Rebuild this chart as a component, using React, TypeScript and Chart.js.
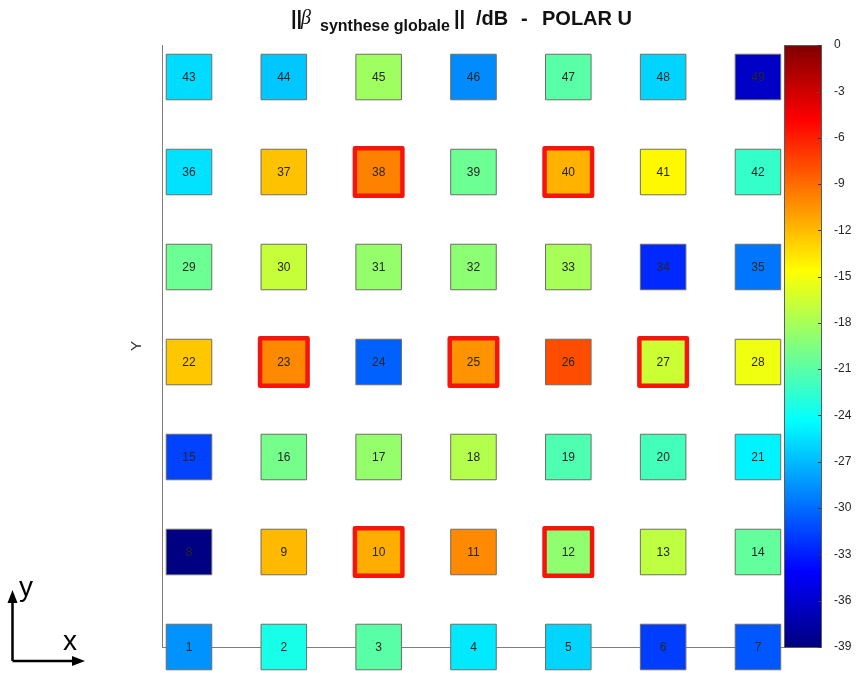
import React, { useEffect, useRef } from 'react';
import { Chart, registerables } from 'chart.js';

Chart.register(...registerables);

// ---- data ----
const sensorIds = [
  1, 2, 3, 4, 5, 6, 7,
  8, 9, 10, 11, 12, 13, 14,
  15, 16, 17, 18, 19, 20, 21,
  22, 23, 24, 25, 26, 27, 28,
  29, 30, 31, 32, 33, 34, 35,
  36, 37, 38, 39, 40, 41, 42,
  43, 44, 45, 46, 47, 48, 49,
];
const gridColumns = 7;
const levelsDb = [
  -28.5, -23.5, -21.0, -25.2, -26.0, -31.8, -30.8,
  -38.9, -12.0, -11.5, -10.1, -18.9, -17.1, -20.6,
  -31.6, -19.9, -18.7, -17.5, -21.4, -21.8, -24.8,
  -12.5, -10.1, -30.4, -10.5, -7.8, -16.6, -15.2,
  -20.3, -16.8, -18.7, -19.0, -18.0, -32.6, -29.6,
  -25.5, -12.3, -9.8, -20.3, -11.7, -14.4, -22.4,
  -25.7, -26.5, -18.3, -28.8, -21.0, -26.0, -36.3,
];
const highlightedIds = [10, 12, 23, 25, 27, 38, 40];
const colorMin = -39;
const colorMax = 0;
const colorbarStep = 3;

const FONT = "'Liberation Sans', Arial, Helvetica, sans-serif";

function clamp01(v: number) {
  return Math.max(0, Math.min(1, v));
}
function jet(value: number): string {
  const t = clamp01((value - colorMin) / (colorMax - colorMin));
  const r = clamp01(1.5 - Math.abs(4 * t - 3));
  const g = clamp01(1.5 - Math.abs(4 * t - 2));
  const b = clamp01(1.5 - Math.abs(4 * t - 1));
  return `rgb(${Math.round(r * 255)},${Math.round(g * 255)},${Math.round(b * 255)})`;
}

const isHl = (i: number) => highlightedIds.includes(sensorIds[i]);

const decorPlugin = {
  id: 'decor',
  beforeDatasetsDraw(chart: any) {
    chart.ctx.lineJoin = 'round';
  },
  afterDatasetsDraw(chart: any) {
    const ctx = chart.ctx;
    ctx.lineJoin = 'miter';
    const meta = chart.getDatasetMeta(0);
    ctx.save();
    ctx.fillStyle = '#262626';
    ctx.font = `12px ${FONT}`;
    ctx.textAlign = 'center';
    ctx.textBaseline = 'middle';
    meta.data.forEach((pt: any, i: number) => {
      ctx.fillText(String(sensorIds[i]), pt.x, pt.y + 1);
    });
    ctx.restore();
  },
  afterDraw(chart: any) {
    const ctx = chart.ctx;
    const area = chart.chartArea;
    const cb = chart.scales.cb;
    // colorbar
    const top = Math.round(cb.getPixelForValue(colorMax));
    const bottom = Math.round(cb.getPixelForValue(colorMin)) + 1;
    const x0 = area.right + 1;
    const w = 38;
    ctx.save();
    for (let py = top; py < bottom; py++) {
      const v = cb.getValueForPixel(py + 0.5);
      ctx.fillStyle = jet(v);
      ctx.fillRect(x0, py, w, 1);
    }
    ctx.strokeStyle = '#5c5c5c';
    ctx.lineWidth = 1;
    ctx.strokeRect(x0 + 0.5, top + 0.5, w - 1, bottom - top - 1);
    ctx.strokeStyle = '#3a3a3a';
    for (let v = colorMin; v <= colorMax; v += colorbarStep) {
      const py = Math.round(cb.getPixelForValue(v)) + 0.5;
      ctx.beginPath();
      ctx.moveTo(x0 + w - 4, py);
      ctx.lineTo(x0 + w - 1, py);
      ctx.stroke();
    }
    ctx.restore();

    // title
    ctx.save();
    ctx.fillStyle = '#111';
    ctx.textAlign = 'left';
    ctx.textBaseline = 'alphabetic';
    ctx.font = `bold 20px ${FONT}`;
    ctx.fillText('||', 291, 25);
    ctx.font = `italic 20px 'Liberation Serif', 'DejaVu Serif', serif`;
    ctx.fillText('β', 301, 24);
    ctx.font = `bold 16px ${FONT}`;
    ctx.fillText('synthese globale', 320, 31);
    ctx.font = `bold 20px ${FONT}`;
    ctx.fillText('||', 454, 25);
    ctx.fillText('/dB', 476, 25);
    ctx.fillText('-', 521, 25);
    ctx.fillText('POLAR U', 542, 25);
    ctx.restore();

    // orientation icon
    ctx.save();
    ctx.strokeStyle = '#000';
    ctx.fillStyle = '#000';
    ctx.lineWidth = 2.5;
    ctx.beginPath();
    ctx.moveTo(12.5, 661);
    ctx.lineTo(12.5, 600);
    ctx.moveTo(12.5, 661);
    ctx.lineTo(74, 661);
    ctx.stroke();
    ctx.beginPath();
    ctx.moveTo(12.5, 590);
    ctx.lineTo(7.5, 603);
    ctx.lineTo(17.5, 603);
    ctx.closePath();
    ctx.fill();
    ctx.beginPath();
    ctx.moveTo(85, 661);
    ctx.lineTo(72, 656);
    ctx.lineTo(72, 666);
    ctx.closePath();
    ctx.fill();
    ctx.font = `28px ${FONT}`;
    ctx.textAlign = 'left';
    ctx.fillText('y', 19, 596);
    ctx.fillText('x', 63, 650);
    ctx.restore();
  },
};

export default function App() {
  const canvasRef = useRef<HTMLCanvasElement | null>(null);

  useEffect(() => {
    const canvas = canvasRef.current;
    if (!canvas) return;
    Chart.defaults.font.family = FONT;
    const chart = new Chart(canvas, {
      type: 'scatter',
      data: {
        datasets: [
          {
            data: sensorIds.map((id) => ({
              x: (id - 1) % gridColumns,
              y: Math.floor((id - 1) / gridColumns),
            })),
            clip: false as any,
            pointStyle: 'rect',
            pointRadius: (c: any) => (isHl(c.dataIndex) ? 33.6 : 32.2),
            pointHoverRadius: (c: any) => (isHl(c.dataIndex) ? 33.6 : 32.2),
            pointBackgroundColor: (c: any) => jet(levelsDb[c.dataIndex]),
            pointBorderColor: (c: any) => (isHl(c.dataIndex) ? '#f5150c' : '#6e6e62'),
            pointBorderWidth: (c: any) => (isHl(c.dataIndex) ? 4.5 : 1),
            pointHoverBorderWidth: (c: any) => (isHl(c.dataIndex) ? 4.5 : 1),
          } as any,
        ],
      },
      options: {
        responsive: false,
        animation: false,
        events: [],
        layout: { autoPadding: false, padding: { top: 45, left: 0, right: 0, bottom: 0 } },
        plugins: {
          legend: { display: false },
          tooltip: { enabled: false },
          title: { display: false },
        },
        scales: {
          x: {
            type: 'linear',
            min: -0.2847,
            max: 6.264,
            grid: { display: false, drawTicks: false },
            ticks: { display: false },
            border: { display: true, color: '#7d7d7d' },
            afterFit: (s: any) => {
              s.height = 26;
              s.paddingLeft = 0;
              s.paddingRight = 0;
            },
          },
          y: {
            type: 'linear',
            position: 'left',
            min: 0,
            max: 6.337,
            grid: { display: false, drawTicks: false },
            ticks: { display: false },
            border: { display: true, color: '#7d7d7d' },
            title: {
              display: true,
              text: 'Y',
              color: '#333',
              font: { family: FONT, size: 15 },
              padding: { top: 128, bottom: 0 },
            },
            afterFit: (s: any) => {
              s.width = 162;
              s.paddingTop = 0;
              s.paddingBottom = 0;
            },
          },
          cb: {
            type: 'linear',
            axis: 'y',
            position: 'right',
            min: colorMin,
            max: colorMax,
            grid: { display: false, drawTicks: false },
            border: { display: false },
            ticks: {
              stepSize: colorbarStep,
              padding: 51,
              color: '#262626',
              font: { family: FONT, size: 12 },
              callback: (v: any) => String(v),
            },
            afterFit: (s: any) => {
              s.width = 73;
              s.paddingTop = 0;
              s.paddingBottom = 0;
            },
          } as any,
        },
      } as any,
      plugins: [decorPlugin],
    });
    return () => chart.destroy();
  }, []);

  return (
    <div style={{ position: 'fixed', left: 0, top: 0, width: 856, height: 673, background: '#fff' }}>
      <canvas ref={canvasRef} width={856} height={673} style={{ display: 'block' }} />
    </div>
  );
}
